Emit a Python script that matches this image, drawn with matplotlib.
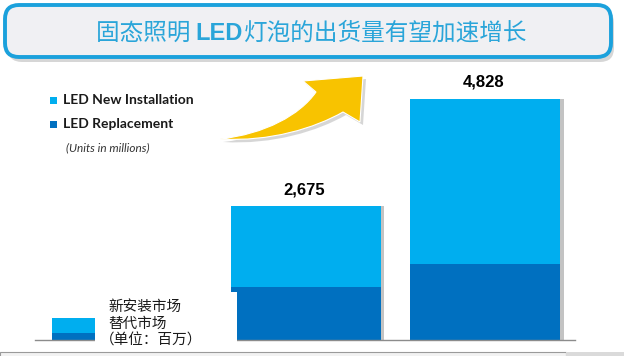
import numpy as np
import matplotlib
matplotlib.use("Agg")
import matplotlib.pyplot as plt
from matplotlib.patches import FancyBboxPatch, Rectangle, PathPatch
from matplotlib.path import Path
import matplotlib.patheffects as pe

plt.rcParams['font.family'] = ['Noto Sans CJK SC', 'DejaVu Sans']

# Data (units in millions)
periods = ['period 1', 'period 2', 'period 3']
replacement = [150, 1060, 1530]
new_install = [300, 1615, 3298]
value_labels = [None, '2,675', '4,828']   # first bar is hidden under the Chinese note

title_parts = ['固态照明 ', 'LED', '灯泡的出货量有望加速增长']
legend_en = ['LED New Installation', 'LED Replacement']
units_en = '(Units in millions)'
legend_cn = ['新安装市场', '替代市场', '（单位：百万）']

c_new = '#00aeef'
c_rep = '#0070c0'
c_title = '#2aa5d9'

W, H = 624, 356
fig = plt.figure(figsize=(W / 100, H / 100), dpi=100)

# pixel-space layer for decorations
top = fig.add_axes([0, 0, 1, 1], zorder=2)
top.set_xlim(0, W)
top.set_ylim(H, 0)
top.axis('off')
top.patch.set_alpha(0)

# bar chart axes
ax = fig.add_axes([35 / W, 16 / H, 540 / W, 280 / H], zorder=1)
ax.patch.set_alpha(0)
x = np.arange(len(periods))
shadow = [pe.SimplePatchShadow(offset=(2.5, 0), shadow_rgbFace='#888888', alpha=0.5), pe.Normal()]
b1 = ax.bar(x, replacement, width=0.836, color=c_rep, path_effects=shadow)
b2 = ax.bar(x, new_install, bottom=replacement, width=0.836, color=c_new, path_effects=shadow)
totals = np.array(replacement) + np.array(new_install)
for xi, tot, lab in zip(x, totals, value_labels):
    if lab:
        ax.annotate(lab, (xi, tot), xytext=(-1, 12), textcoords='offset points',
                    ha='center', va='center', fontsize=12, fontweight='bold',
                    family='Liberation Sans', color='black')
ax.set_xlim(-0.51, 2.499)
ax.set_ylim(0, 5600)
for s in ['top', 'right', 'left']:
    ax.spines[s].set_visible(False)
ax.spines['bottom'].set_color('#8c8c8c')
ax.spines['bottom'].set_linewidth(1.0)
ax.set_xticks([])
ax.set_yticks([])

# title box
top.add_patch(FancyBboxPatch((8, 9), 606, 53, boxstyle='round,pad=0,rounding_size=14',
                             fc='#9a9a9a', ec='none', alpha=0.4))
top.add_patch(FancyBboxPatch((5, 5), 606, 52, boxstyle='round,pad=0,rounding_size=14',
                             fc='#f0f0f3', ec='#1ba1dc', lw=2.8))
t = top.text(96, 33, title_parts[0], fontsize=17, color=c_title, ha='left', va='center')
t = top.annotate(title_parts[1], xy=(1, 0), xycoords=t, va='bottom', ha='left',
                 fontsize=17, color=c_title, fontweight='bold', family='Liberation Sans')
top.annotate(title_parts[2], xy=(1, 0), xycoords=t, va='bottom', ha='left',
             fontsize=17, color=c_title)

# curved yellow arrow
verts = [(220, 139), (265, 134), (300, 115), (316, 92), (303, 81), (363, 76),
         (360, 122), (343, 112), (315, 128), (270, 142), (220, 139), (220, 139)]
codes = [Path.MOVETO, Path.CURVE4, Path.CURVE4, Path.CURVE4, Path.LINETO, Path.LINETO,
         Path.LINETO, Path.LINETO, Path.CURVE4, Path.CURVE4, Path.CURVE4, Path.CLOSEPOLY]
arrow = Path(verts, codes)
sh = Path(np.array(verts) + [3, 3], codes)
top.add_patch(PathPatch(sh, fc='#7a7a7a', ec='none', alpha=0.3))
top.add_patch(PathPatch(arrow, fc='#f8c300', ec='white', lw=0.8))

# English legend
for i, (lab, col) in enumerate(zip(legend_en, [c_new, c_rep])):
    y = 100 + 24 * i
    top.add_patch(Rectangle((50, y - 3.5), 7, 7, fc=col, ec='none'))
    top.text(63, y, lab, fontsize=10, fontweight='bold', family='Lato', color='#1a1a1a',
             ha='left', va='center')
top.text(66, 148, units_en, fontsize=8.5, style='italic', family='Lato', color='#333333',
         ha='left', va='center')

# white note box covering the first bar, with Chinese legend
top.add_patch(Rectangle((95, 292), 142, 57, fc='white', ec='none'))
for i, lab in enumerate(legend_cn):
    top.text(108 if i < 2 else 100, 307 + 17 * i, lab, fontsize=10.5, color='#1a1a1a',
             ha='left', va='center')

# bottom strip
top.add_patch(Rectangle((0, 351.5), 566, 6, fc='#f2f2f2', ec='#9a9a9a', lw=0.8))
top.add_patch(Rectangle((566, 351.5), 60, 6, fc='#dadada', ec='none'))

fig.savefig('out.png', dpi=100)
